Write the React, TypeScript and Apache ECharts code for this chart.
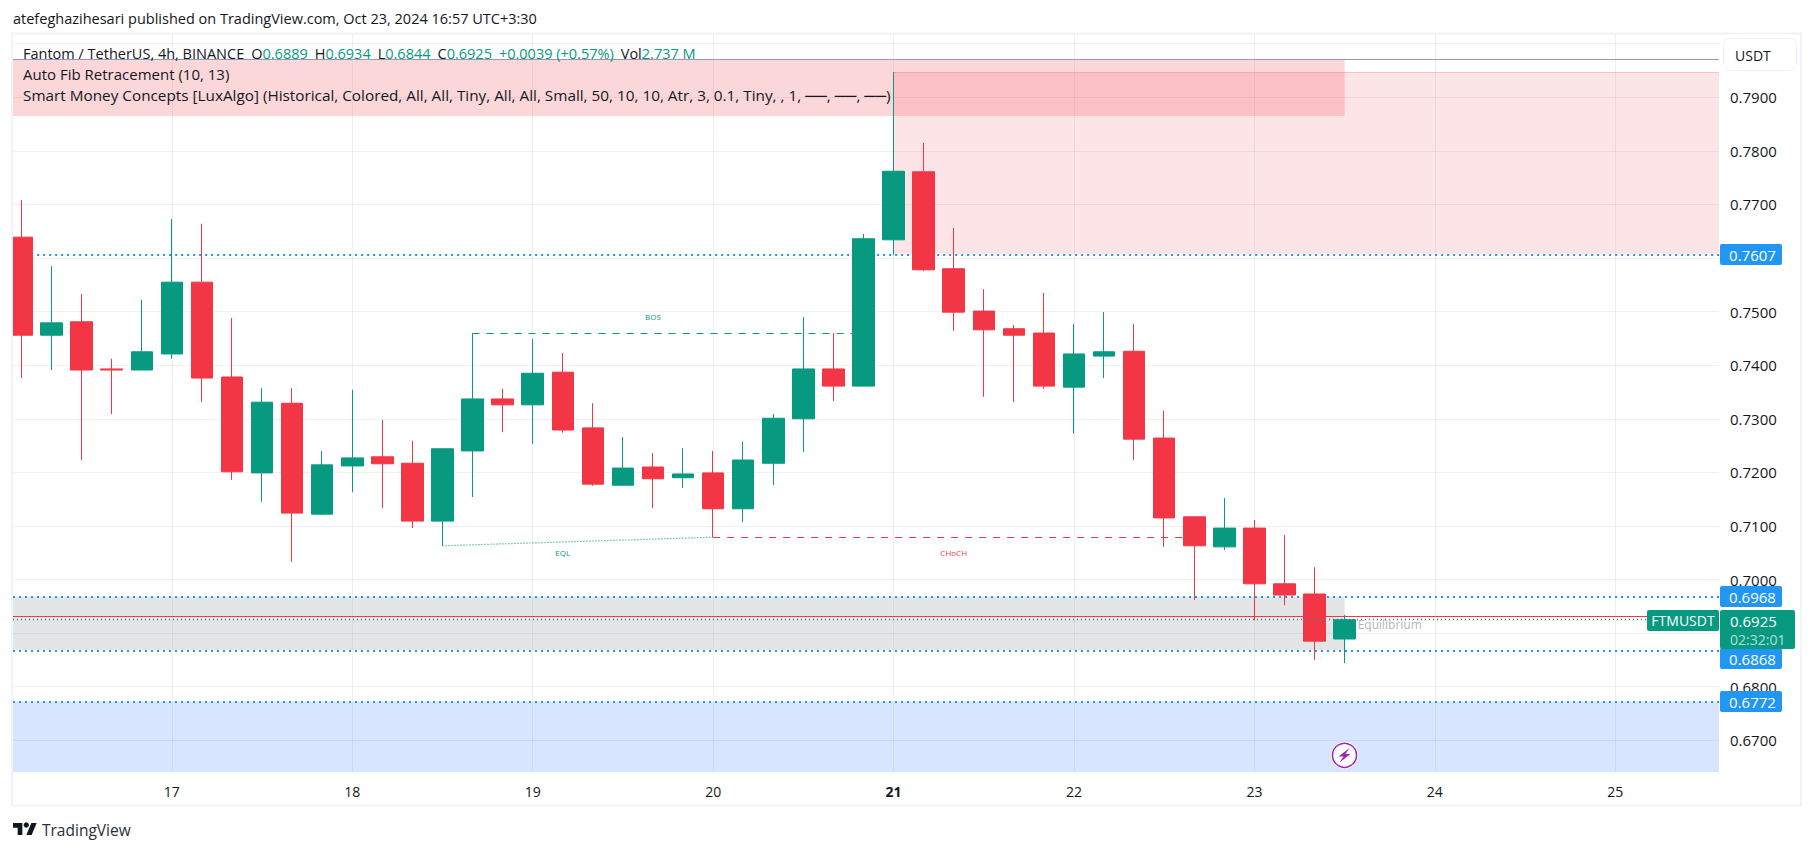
import React, { useEffect, useRef } from "react";
import * as echarts from "echarts";

const barIndex = Array.from({ length: 45 }, (_, i) => i);
const opens = [0.7639,0.7456,0.7481,0.7393,0.7391,0.7421,0.7555,0.7378,0.7199,0.7329,0.7122,0.7212,0.7229,0.7217,0.7109,0.7240,0.7337,0.7326,0.7387,0.7283,0.7176,0.7210,0.7190,0.7199,0.7132,0.7217,0.7300,0.7393,0.7361,0.7634,0.7761,0.7580,0.7501,0.7468,0.7460,0.7359,0.7417,0.7426,0.7264,0.7117,0.7061,0.7096,0.6992,0.6973,0.6889];
const closes = [0.7456,0.7479,0.7391,0.7391,0.7425,0.7555,0.7376,0.7201,0.7331,0.7124,0.7214,0.7227,0.7216,0.7109,0.7244,0.7337,0.7326,0.7385,0.7279,0.7178,0.7208,0.7188,0.7197,0.7132,0.7223,0.7301,0.7393,0.7361,0.7636,0.7762,0.7578,0.7499,0.7466,0.7456,0.7361,0.7421,0.7425,0.7262,0.7115,0.7063,0.7096,0.6992,0.6971,0.6885,0.6925];
const lows = [0.7376,0.7391,0.7223,0.7309,0.7391,0.7412,0.7331,0.7186,0.7145,0.7033,0.7120,0.7163,0.7133,0.7096,0.7063,0.7154,0.7275,0.7253,0.7274,0.7175,0.7176,0.7133,0.7171,0.7079,0.7107,0.7176,0.7238,0.7333,0.7361,0.7606,0.7576,0.7464,0.7341,0.7331,0.7356,0.7272,0.7376,0.7223,0.7061,0.6962,0.7055,0.6924,0.6952,0.6850,0.6844];
const highs = [0.7708,0.7585,0.7533,0.7412,0.7522,0.7673,0.7664,0.7488,0.7357,0.7357,0.7240,0.7354,0.7298,0.7259,0.7245,0.7460,0.7356,0.7449,0.7423,0.7329,0.7266,0.7236,0.7245,0.7240,0.7257,0.7309,0.7490,0.7460,0.7645,0.7947,0.7815,0.7656,0.7542,0.7475,0.7535,0.7477,0.7499,0.7477,0.7315,0.7117,0.7152,0.7111,0.7083,0.7023,0.6934];

const dayTickBars = [5, 11, 17, 23, 29, 35, 41, 47, 53];
const dayLabels = ["17", "18", "19", "20", "21", "22", "23", "24", "25"];
const gridPrices = [0.67,0.68,0.69,0.70,0.71,0.72,0.73,0.74,0.75,0.76,0.77,0.78,0.79,0.80];
const labelPrices = [0.67,0.68,0.70,0.71,0.72,0.73,0.74,0.75,0.76,0.77,0.78,0.79];

const X_MIN = -0.2827, X_MAX = 56.45;
const Y_MIN = 0.66408, Y_MAX = 0.80181;
const LAST = 44;

const GREEN = "#089981", RED = "#F23645", BLUE = "#2196F3";
const FONT = '"Open Sans", sans-serif';

function seg(x1: number, y1: number, x2: number, y2: number, lineStyle: any) {
  return [{ coord: [x1, y1], lineStyle }, { coord: [x2, y2] }];
}
function note(x: number, y: number, text: string, color: string, fontSize = 8) {
  return {
    coord: [x, y], symbolSize: 0,
    label: { show: true, formatter: text, color, fontSize, fontFamily: FONT, position: "inside" },
  };
}
function area(x1: number, y1: number, x2: number, y2: number, color: string) {
  return [{ coord: [x1, y1], itemStyle: { color, borderWidth: 0 } }, { coord: [x2, y2] }];
}
function priceTag(top: number, text: string) {
  return [
    { type: "rect", z: 60, shape: { x: 1720, y: top, width: 62, height: 21, r: 2 }, style: { fill: BLUE } },
    { type: "text", z: 61, style: { x: 1752.5, y: top + 10.5, text, fill: "#fff", font: `500 15px ${FONT}`, align: "center", verticalAlign: "middle" } },
  ];
}

export default function App() {
  const ref = useRef<HTMLDivElement>(null);
  useEffect(() => {
    document.body.style.margin = "0";
    echarts.graphic.registerShape("tvlogo", echarts.graphic.extendPath("M14 22H7V11H0V4h14v18zM28 22h-8l7.5-18h8L28 22z", {}) as any);
    const chart = echarts.init(ref.current!, null, { renderer: "svg" });
    const blueDots = { color: BLUE, type: [2, 4] as any, width: 2 };
    const option: any = {
      animation: false,
      backgroundColor: "#ffffff",
      grid: { left: 13, right: 95, top: 34, bottom: 79 },
      xAxis: {
        type: "value", min: X_MIN, max: X_MAX,
        axisLine: { show: false },
        axisTick: { show: false, customValues: dayTickBars },
        splitLine: { show: true, lineStyle: { color: "rgba(42,46,57,0.07)", width: 1 } },
        axisLabel: {
          customValues: dayTickBars, margin: 12, color: "#131722", fontSize: 14, fontFamily: FONT,
          hideOverlap: false, showMinLabel: true, showMaxLabel: true,
          formatter: (v: number) => {
            const d = dayLabels[dayTickBars.indexOf(v)];
            return d === "21" ? `{b|${d}}` : d;
          },
          rich: { b: { fontWeight: "bold", fontSize: 14, fontFamily: FONT, color: "#131722" } },
        },
      },
      yAxis: {
        type: "value", position: "right", min: Y_MIN, max: Y_MAX, scale: true,
        axisLine: { show: false },
        axisTick: { show: false, customValues: gridPrices },
        splitLine: { show: true, lineStyle: { color: "rgba(42,46,57,0.07)", width: 1 } },
        axisLabel: {
          customValues: labelPrices, margin: 11, color: "#131722", fontSize: 15, fontFamily: FONT,
          formatter: (v: number) => v.toFixed(4),
        },
      },
      series: [
        {
          name: "Zones", type: "line", data: [], silent: true,
          markArea: {
            silent: true, z: 1, label: { show: false },
            data: [
              area(29, 0.7607, X_MAX, 0.7947, "rgba(242,54,69,0.13)"),
              area(X_MIN, 0.7865, LAST, 0.7971, "rgba(242,54,69,0.2)"),
              area(X_MIN, 0.6868, LAST, 0.6968, "rgba(120,123,134,0.2)"),
              area(X_MIN, Y_MIN, X_MAX, 0.6772, "rgba(41,118,255,0.19)"),
            ],
          },
          markLine: {
            silent: true, z: 1.5, symbol: "none", label: { show: false },
            data: [
              seg(X_MIN, 0.7971, X_MAX, 0.7971, { color: "#9598b8", type: "solid", width: 1 }),
              seg(29, 0.7947, X_MAX, 0.7947, { color: "rgba(242,54,69,0.2)", type: "solid", width: 1 }),
              seg(0.52, 0.7607, X_MAX, 0.7607, blueDots),
              seg(X_MIN, 0.6968, X_MAX, 0.6968, blueDots),
              seg(X_MIN, 0.6868, X_MAX, 0.6868, blueDots),
              seg(X_MIN, 0.6772, X_MAX, 0.6772, blueDots),
              seg(X_MIN, 0.6931, X_MAX, 0.6931, { color: RED, type: "solid", width: 1 }),
              seg(15, 0.7460, 28, 0.7460, { color: GREEN, type: [7, 7] as any, width: 1 }),
              seg(14, 0.7063, 23, 0.7079, { color: GREEN, type: [1, 2] as any, width: 1.2 }),
              seg(23, 0.7079, 39, 0.7079, { color: RED, type: [7, 7] as any, width: 1 }),
            ],
          },
          markPoint: {
            silent: true, z: 3, symbol: "circle", symbolSize: 0,
            data: [
              note(21, 0.7490, "BOS", GREEN),
              note(18, 0.7051, "EQL", GREEN),
              note(31, 0.7051, "CHoCH", RED),
              note(45.5, 0.6917, "Equilibrium", "#b2b5be", 12),
            ],
          },
        },
        {
          name: "FTMUSDT", type: "candlestick", z: 2, barWidth: 22,
          data: barIndex.map((i) => [i, opens[i], closes[i], lows[i], highs[i]]),
          itemStyle: { color: GREEN, color0: RED, borderColor: GREEN, borderColor0: RED, borderWidth: 1 },
          clip: true,
        },
        {
          name: "Last", type: "line", data: [], silent: true,
          markLine: {
            silent: true, z: 3, symbol: "none", label: { show: false },
            data: [seg(X_MIN, 0.6925, X_MAX, 0.6925, { color: GREEN, type: [1, 3] as any, width: 1.4 })],
          },
        },
      ],
      graphic: [
        { type: "rect", z: 48, shape: { x: 0, y: 34, width: 12, height: 772 }, style: { fill: "#fff" } },
        { type: "text", z: 50, style: { x: 13, y: 18, text: "atefeghazihesari published on TradingView.com, Oct 23, 2024 16:57 UTC+3:30", fill: "#131722", font: `14.5px ${FONT}`, verticalAlign: "middle" } },
        { type: "rect", z: 49, shape: { x: 12, y: 33.5, width: 1789, height: 772 }, style: { fill: "none", stroke: "#f0f3fa", lineWidth: 2 } },
        {
          type: "text", z: 50,
          style: {
            x: 23, y: 53, verticalAlign: "middle",
            text: "{d|Fantom / TetherUS, 4h, BINANCE}{s| }{d|O}{g|0.6889}{s| }{d|H}{g|0.6934}{s| }{d|L}{g|0.6844}{s| }{d|C}{g|0.6925}{s| }{g|+0.0039 (+0.57%)}{s| }{d|Vol}{g|2.737 M}",
            rich: {
              d: { fill: "#131722", font: `14.5px ${FONT}` },
              g: { fill: GREEN, font: `14.5px ${FONT}` },
              s: { fill: "#131722", font: `14.5px ${FONT}`, width: 7 },
            },
          },
        },
        { type: "text", z: 50, style: { x: 23, y: 74, text: "Auto Fib Retracement (10, 13)", fill: "#131722", font: `15px ${FONT}`, verticalAlign: "middle" } },
        { type: "text", z: 50, style: { x: 23, y: 95, text: "Smart Money Concepts [LuxAlgo] (Historical, Colored, All, All, Tiny, All, All, Small, 50, 10, 10, Atr, 3, 0.1, Tiny, , 1, ──, ──, ──)", fill: "#131722", font: `15.3px ${FONT}`, verticalAlign: "middle" } },
        { type: "rect", z: 60, shape: { x: 1723.5, y: 38.5, width: 73, height: 32, r: 6 }, style: { fill: "#fff", stroke: "#f0f3fa", lineWidth: 1 } },
        { type: "text", z: 61, style: { x: 1735, y: 55, text: "USDT", fill: "#131722", font: `14px ${FONT}`, verticalAlign: "middle" } },
        ...priceTag(244, "0.7607"),
        ...priceTag(586, "0.6968"),
        ...priceTag(648, "0.6868"),
        ...priceTag(691, "0.6772"),
        { type: "rect", z: 62, shape: { x: 1647, y: 610, width: 72, height: 21, r: 2 }, style: { fill: GREEN } },
        { type: "text", z: 63, style: { x: 1683, y: 620.5, text: "FTMUSDT", fill: "#fff", font: `500 14px ${FONT}`, align: "center", verticalAlign: "middle" } },
        { type: "rect", z: 62, shape: { x: 1720, y: 610, width: 75, height: 39, r: 2 }, style: { fill: GREEN } },
        { type: "text", z: 63, style: { x: 1730, y: 621, text: "0.6925", fill: "#fff", font: `500 15px ${FONT}`, verticalAlign: "middle" } },
        { type: "text", z: 63, style: { x: 1730, y: 639, text: "02:32:01", fill: "rgba(255,255,255,0.7)", font: `500 14px ${FONT}`, verticalAlign: "middle" } },
        { type: "circle", z: 40, shape: { cx: 1344.5, cy: 755.3, r: 13.5 }, style: { fill: "#fff" } },
        { type: "circle", z: 41, shape: { cx: 1344.5, cy: 755.3, r: 12 }, style: { fill: "none", stroke: "#9c27b0", lineWidth: 1.5 } },
        { type: "polygon", z: 42, shape: { points: [[1349.5, 748], [1338.5, 756.5], [1343.5, 756.5], [1339.5, 762.5], [1350.5, 754], [1345.5, 754]] }, style: { fill: "#9c27b0" } },
        { type: "tvlogo", z: 50, x: 13, y: 820.3, scaleX: 0.667, scaleY: 0.667, style: { fill: "#131722" } },
        { type: "circle", z: 50, shape: { cx: 26.3, cy: 825, r: 2.67 }, style: { fill: "#131722" } },
        { type: "text", z: 50, style: { x: 42, y: 830, text: "TradingView", fill: "#2a2e39", font: `15.5px ${FONT}`, verticalAlign: "middle" } },
      ],
    };
    chart.setOption(option);
    return () => chart.dispose();
  }, []);
  return <div ref={ref} style={{ position: "fixed", left: 0, top: 0, width: 1814, height: 851 }} />;
}
